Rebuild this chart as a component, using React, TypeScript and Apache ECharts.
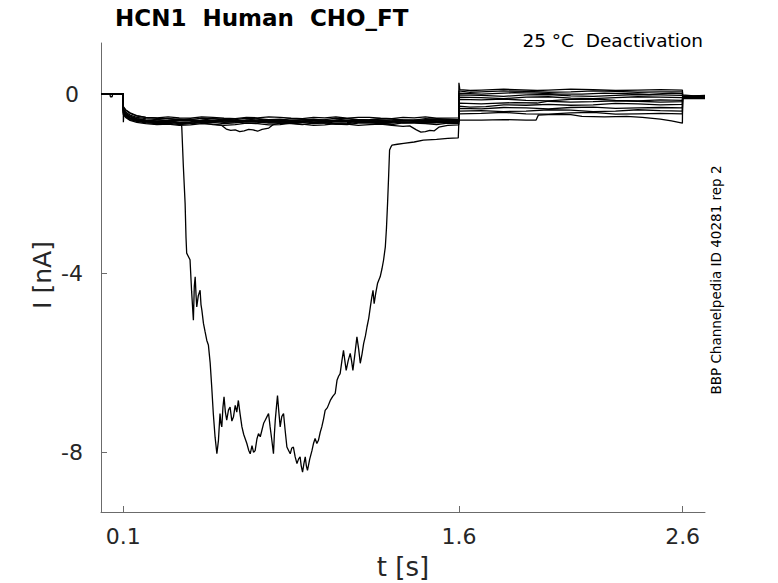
import React, { useEffect, useRef } from "react";
import * as echarts from "echarts";

// ---- data (time in s, current in nA) ----
const X_TICKS = [0.1, 1.6, 2.6];
const Y_TICKS = [0, -4, -8];
const X_RANGE = [0, 2.7];
const Y_RANGE = [-9.33, 1.14];

const trace01 = [
  [0, 0], [0.0995, 0], [0.1, -0.3], [0.11, -0.36], [0.13, -0.43], [0.16, -0.49], [0.2, -0.52], [0.25, -0.53],
  [0.3, -0.51], [0.35, -0.53], [0.4, -0.54], [0.45, -0.51], [0.5, -0.52], [0.55, -0.54], [0.6, -0.55], [0.65, -0.52],
  [0.7, -0.53], [0.75, -0.51], [0.8, -0.52], [0.85, -0.54], [0.9, -0.55], [0.95, -0.52], [1.0, -0.53], [1.05, -0.51],
  [1.1, -0.54], [1.15, -0.52], [1.2, -0.52], [1.25, -0.54], [1.3, -0.55], [1.35, -0.52], [1.4, -0.53], [1.45, -0.51],
  [1.5, -0.54], [1.599, -0.53], [1.6, 0.25], [1.604, 0.1], [1.65, 0.08], [1.7, 0.09], [1.8, 0.11], [1.85, 0.1],
  [1.95, 0.08], [2.0, 0.09], [2.1, 0.11], [2.2, 0.1], [2.3, 0.08], [2.4, 0.09], [2.5, 0.1], [2.599, 0.09],
  [2.6, -0.02], [2.65, -0.04], [2.7, -0.03],
];
const trace02 = [
  [0, 0], [0.0995, 0], [0.1, -0.33], [0.11, -0.4], [0.13, -0.47], [0.16, -0.52], [0.2, -0.55], [0.25, -0.57],
  [0.3, -0.55], [0.35, -0.56], [0.4, -0.59], [0.45, -0.58], [0.5, -0.55], [0.55, -0.56], [0.6, -0.59], [0.65, -0.58],
  [0.7, -0.55], [0.75, -0.57], [0.8, -0.56], [0.85, -0.59], [0.9, -0.57], [0.95, -0.56], [1.0, -0.59], [1.05, -0.58],
  [1.1, -0.55], [1.15, -0.57], [1.2, -0.58], [1.25, -0.56], [1.3, -0.55], [1.35, -0.58], [1.4, -0.59], [1.45, -0.57],
  [1.5, -0.56], [1.55, -0.58], [1.599, -0.57], [1.6, 0.07], [1.65, 0.04], [1.7, 0.05], [1.8, 0.07], [1.9, 0.06],
  [2.0, 0.04], [2.1, 0.05], [2.2, 0.07], [2.3, 0.06], [2.4, 0.04], [2.5, 0.05], [2.599, 0.05], [2.6, -0.04], [2.7, -0.04],
];
const trace03 = [
  [0, 0], [0.0995, 0], [0.1, -0.36], [0.11, -0.43], [0.13, -0.5], [0.16, -0.55], [0.2, -0.58], [0.25, -0.61],
  [0.3, -0.6], [0.35, -0.58], [0.4, -0.58], [0.45, -0.61], [0.5, -0.6], [0.55, -0.58], [0.6, -0.59], [0.65, -0.62],
  [0.7, -0.61], [0.75, -0.59], [0.8, -0.58], [0.85, -0.61], [0.9, -0.6], [0.95, -0.58], [1.0, -0.59], [1.05, -0.62],
  [1.1, -0.61], [1.15, -0.58], [1.2, -0.59], [1.25, -0.61], [1.3, -0.6], [1.35, -0.58], [1.4, -0.58], [1.45, -0.61],
  [1.5, -0.6], [1.599, -0.59], [1.6, 0.02], [1.7, 0.0], [1.75, 0.01], [1.85, 0.03], [1.95, 0.02], [2.05, 0.0],
  [2.15, 0.0], [2.25, 0.02], [2.35, 0.01], [2.45, -0.01], [2.55, 0.02], [2.599, 0.01], [2.6, -0.05], [2.7, -0.05],
];
const trace04 = [
  [0, 0], [0.0995, 0], [0.1, -0.4], [0.11, -0.46], [0.13, -0.53], [0.16, -0.57], [0.2, -0.6], [0.25, -0.62],
  [0.3, -0.61], [0.35, -0.64], [0.4, -0.63], [0.45, -0.6], [0.5, -0.61], [0.55, -0.63], [0.6, -0.62], [0.65, -0.59],
  [0.7, -0.6], [0.75, -0.62], [0.8, -0.63], [0.85, -0.6], [0.9, -0.61], [0.95, -0.64], [1.0, -0.62], [1.05, -0.6],
  [1.1, -0.6], [1.15, -0.63], [1.2, -0.62], [1.25, -0.6], [1.3, -0.61], [1.35, -0.64], [1.4, -0.63], [1.45, -0.6],
  [1.5, -0.61], [1.599, -0.62], [1.6, -0.02], [1.7, -0.03], [1.8, -0.05], [1.9, -0.02], [2.0, -0.01], [2.1, -0.04],
  [2.2, -0.05], [2.3, -0.03], [2.4, -0.01], [2.5, -0.02], [2.599, -0.03], [2.6, -0.06], [2.7, -0.06],
];
const trace05 = [
  [0, 0], [0.0995, 0], [0.1, -0.28], [0.11, -0.35], [0.13, -0.42], [0.16, -0.48], [0.2, -0.52], [0.25, -0.54],
  [0.3, -0.55], [0.35, -0.58], [0.4, -0.57], [0.45, -0.54], [0.5, -0.55], [0.55, -0.58], [0.6, -0.57], [0.65, -0.54],
  [0.7, -0.56], [0.75, -0.59], [0.8, -0.58], [0.85, -0.55], [0.9, -0.56], [0.95, -0.58], [1.0, -0.57], [1.05, -0.54],
  [1.1, -0.55], [1.15, -0.58], [1.2, -0.57], [1.25, -0.55], [1.3, -0.56], [1.35, -0.59], [1.4, -0.58], [1.45, -0.55],
  [1.5, -0.56], [1.599, -0.57], [1.6, -0.07], [1.7, -0.08], [1.8, -0.1], [1.9, -0.07], [2.0, -0.06], [2.1, -0.09],
  [2.2, -0.1], [2.3, -0.08], [2.4, -0.06], [2.5, -0.07], [2.599, -0.08], [2.6, -0.05], [2.7, -0.06],
];
const trace06 = [
  [0, 0], [0.0995, 0], [0.1, -0.42], [0.11, -0.48], [0.13, -0.55], [0.16, -0.59], [0.2, -0.62], [0.25, -0.64],
  [0.3, -0.63], [0.35, -0.66], [0.4, -0.65], [0.45, -0.62], [0.5, -0.63], [0.55, -0.66], [0.6, -0.64], [0.65, -0.61],
  [0.7, -0.62], [0.75, -0.65], [0.8, -0.65], [0.85, -0.62], [0.9, -0.63], [0.95, -0.66], [1.0, -0.64], [1.05, -0.67],
  [1.1, -0.66], [1.15, -0.63], [1.2, -0.63], [1.25, -0.66], [1.3, -0.65], [1.35, -0.62], [1.4, -0.63], [1.45, -0.65],
  [1.5, -0.64], [1.599, -0.63], [1.6, -0.12], [1.7, -0.13], [1.8, -0.11], [1.9, -0.14], [2.0, -0.15], [2.1, -0.12],
  [2.2, -0.11], [2.3, -0.14], [2.4, -0.15], [2.5, -0.13], [2.599, -0.14], [2.6, -0.07], [2.7, -0.07],
];
const trace07 = [
  [0, 0], [0.0995, 0], [0.1, -0.38], [0.11, -0.44], [0.13, -0.51], [0.16, -0.56], [0.2, -0.59], [0.25, -0.61],
  [0.3, -0.6], [0.35, -0.63], [0.4, -0.62], [0.45, -0.59], [0.5, -0.59], [0.55, -0.62], [0.6, -0.61], [0.65, -0.58],
  [0.7, -0.6], [0.75, -0.63], [0.8, -0.62], [0.85, -0.59], [0.9, -0.6], [0.95, -0.62], [1.0, -0.61], [1.05, -0.58],
  [1.1, -0.59], [1.15, -0.62], [1.2, -0.61], [1.25, -0.59], [1.3, -0.6], [1.35, -0.63], [1.4, -0.62], [1.45, -0.59],
  [1.5, -0.6], [1.599, -0.61], [1.6, -0.2], [1.7, -0.22], [1.75, -0.21], [1.85, -0.19], [1.95, -0.2], [2.0, -0.16],
  [2.1, -0.18], [2.2, -0.17], [2.3, -0.15], [2.4, -0.16], [2.5, -0.18], [2.599, -0.17], [2.6, -0.08], [2.7, -0.08],
];
const trace08 = [
  [0, 0], [0.0995, 0], [0.1, -0.44], [0.11, -0.5], [0.13, -0.57], [0.16, -0.61], [0.2, -0.64], [0.25, -0.66],
  [0.3, -0.65], [0.35, -0.68], [0.4, -0.66], [0.45, -0.64], [0.5, -0.68], [0.54, -0.7], [0.56, -0.78], [0.58, -0.81],
  [0.6, -0.8], [0.62, -0.84], [0.64, -0.82], [0.66, -0.79], [0.68, -0.8], [0.7, -0.83], [0.72, -0.79], [0.75, -0.76],
  [0.77, -0.68], [0.8, -0.65], [0.85, -0.66], [0.9, -0.68], [0.95, -0.65], [1.0, -0.64], [1.05, -0.67], [1.1, -0.68],
  [1.15, -0.65], [1.2, -0.64], [1.25, -0.66], [1.3, -0.68], [1.35, -0.64], [1.4, -0.65], [1.45, -0.66], [1.5, -0.68],
  [1.55, -0.65], [1.599, -0.66], [1.6, -0.27], [1.65, -0.29], [1.72, -0.28], [1.8, -0.24], [1.9, -0.25], [2.0, -0.23],
  [2.1, -0.25], [2.2, -0.24], [2.3, -0.21], [2.4, -0.22], [2.5, -0.24], [2.599, -0.23], [2.6, -0.06], [2.7, -0.06],
];
const trace09 = [
  [0, 0], [0.0995, 0], [0.1, -0.41], [0.11, -0.47], [0.13, -0.54], [0.16, -0.58], [0.2, -0.61], [0.25, -0.63],
  [0.3, -0.62], [0.35, -0.59], [0.4, -0.6], [0.45, -0.63], [0.5, -0.63], [0.55, -0.6], [0.6, -0.62], [0.65, -0.65],
  [0.7, -0.64], [0.75, -0.61], [0.8, -0.61], [0.85, -0.64], [0.9, -0.63], [0.95, -0.6], [1.0, -0.62], [1.05, -0.65],
  [1.1, -0.64], [1.15, -0.61], [1.2, -0.62], [1.25, -0.64], [1.3, -0.63], [1.35, -0.6], [1.4, -0.61], [1.45, -0.64],
  [1.5, -0.63], [1.599, -0.62], [1.6, -0.32], [1.7, -0.33], [1.8, -0.3], [1.9, -0.31], [2.0, -0.33], [2.1, -0.3],
  [2.2, -0.29], [2.3, -0.32], [2.4, -0.31], [2.5, -0.3], [2.599, -0.31], [2.6, -0.09], [2.7, -0.09],
];
const trace10 = [
  [0, 0], [0.0995, 0], [0.1, -0.46], [0.11, -0.52], [0.13, -0.59], [0.16, -0.63], [0.2, -0.66], [0.25, -0.68],
  [0.3, -0.67], [0.35, -0.7], [0.4, -0.69], [0.45, -0.66], [0.5, -0.67], [0.55, -0.7], [0.6, -0.68], [0.65, -0.65],
  [0.7, -0.66], [0.75, -0.69], [0.8, -0.68], [0.85, -0.65], [0.9, -0.67], [0.95, -0.7], [1.0, -0.69], [1.05, -0.66],
  [1.1, -0.67], [1.15, -0.7], [1.2, -0.68], [1.25, -0.67], [1.3, -0.7], [1.35, -0.72], [1.38, -0.71], [1.41, -0.8],
  [1.43, -0.85], [1.45, -0.84], [1.47, -0.81], [1.49, -0.82], [1.51, -0.74], [1.55, -0.7], [1.599, -0.69],
  [1.6, -0.38], [1.7, -0.37], [1.8, -0.39], [1.9, -0.38], [2.0, -0.35], [2.1, -0.36], [2.2, -0.39], [2.3, -0.38],
  [2.4, -0.35], [2.5, -0.37], [2.599, -0.38], [2.6, -0.1], [2.7, -0.1],
];
const trace11 = [
  [0, 0], [0.0995, 0], [0.1, -0.37], [0.11, -0.44], [0.13, -0.5], [0.16, -0.55], [0.2, -0.58], [0.25, -0.6],
  [0.3, -0.59], [0.35, -0.56], [0.4, -0.57], [0.45, -0.6], [0.5, -0.6], [0.55, -0.57], [0.6, -0.58], [0.65, -0.61],
  [0.7, -0.6], [0.75, -0.58], [0.8, -0.59], [0.85, -0.62], [0.9, -0.61], [0.95, -0.58], [1.0, -0.58], [1.05, -0.61],
  [1.1, -0.6], [1.15, -0.57], [1.2, -0.59], [1.25, -0.62], [1.3, -0.61], [1.35, -0.58], [1.4, -0.59], [1.45, -0.61],
  [1.5, -0.6], [1.599, -0.6], [1.6, -0.44], [1.7, -0.43], [1.8, -0.41], [1.9, -0.44], [2.0, -0.45], [2.1, -0.42],
  [2.2, -0.41], [2.3, -0.45], [2.4, -0.44], [2.5, -0.43], [2.599, -0.44], [2.6, -0.07], [2.7, -0.07],
];
const trace12 = [
  [0, 0], [0.04, 0], [0.042, -0.06], [0.05, -0.06], [0.052, 0], [0.0995, 0], [0.1, -0.63], [0.102, -0.42],
  [0.11, -0.48], [0.13, -0.55], [0.16, -0.6], [0.2, -0.62], [0.25, -0.63], [0.3, -0.61], [0.34, -0.64], [0.358, -0.66],
  [0.361, -0.73], [0.368, -1.6], [0.376, -2.44], [0.38, -3.2], [0.383, -3.55], [0.39, -3.62], [0.398, -3.7],
  [0.405, -4.4], [0.413, -5.05], [0.417, -4.3], [0.421, -4.08], [0.425, -4.5], [0.428, -4.75], [0.435, -4.5],
  [0.443, -4.38], [0.447, -4.7], [0.451, -4.83], [0.458, -5.12], [0.465, -5.3], [0.473, -5.5], [0.48, -5.6],
  [0.488, -6.0], [0.495, -6.54], [0.502, -7.13], [0.51, -7.66], [0.518, -8.03], [0.525, -7.73], [0.532, -7.13],
  [0.536, -7.35], [0.54, -7.43], [0.545, -7.0], [0.55, -6.76], [0.556, -7.1], [0.562, -7.28], [0.57, -7.05],
  [0.577, -6.99], [0.585, -7.3], [0.592, -7.21], [0.6, -6.95], [0.607, -7.1], [0.614, -6.84], [0.622, -7.15],
  [0.63, -7.43], [0.638, -7.6], [0.645, -7.7], [0.652, -7.8], [0.66, -7.95], [0.667, -8.03], [0.675, -7.85],
  [0.682, -8.0], [0.689, -7.96], [0.697, -7.7], [0.704, -7.58], [0.712, -7.65], [0.719, -7.51], [0.727, -7.35],
  [0.734, -7.28], [0.742, -7.2], [0.749, -7.13], [0.756, -7.43], [0.763, -7.7], [0.771, -8.03], [0.775, -7.6],
  [0.779, -7.28], [0.784, -7.0], [0.789, -6.73], [0.795, -7.1], [0.801, -7.43], [0.808, -7.2], [0.816, -7.13],
  [0.823, -7.5], [0.831, -7.88], [0.838, -7.95], [0.846, -8.03], [0.853, -7.9], [0.86, -7.88], [0.868, -8.1],
  [0.876, -8.25], [0.883, -8.15], [0.89, -8.1], [0.895, -8.3], [0.901, -8.44], [0.907, -8.25], [0.913, -8.1],
  [0.918, -8.3], [0.923, -8.4], [0.933, -8.15], [0.943, -7.96], [0.95, -7.8], [0.957, -7.69], [0.965, -7.8],
  [0.972, -7.73], [0.98, -7.55], [0.987, -7.43], [0.995, -7.25], [1.002, -7.06], [1.012, -7.0], [1.025, -6.84],
  [1.036, -6.75], [1.047, -6.68], [1.055, -6.39], [1.062, -6.3], [1.069, -6.24], [1.077, -5.95], [1.084, -5.72],
  [1.09, -5.95], [1.096, -6.17], [1.105, -5.95], [1.114, -5.79], [1.12, -5.95], [1.126, -6.17], [1.135, -5.8],
  [1.144, -5.42], [1.152, -5.7], [1.159, -6.01], [1.167, -5.8], [1.174, -5.57], [1.182, -5.4], [1.189, -5.2],
  [1.197, -5.0], [1.204, -4.75], [1.21, -4.55], [1.216, -4.38], [1.221, -4.68], [1.228, -4.45], [1.236, -4.23],
  [1.242, -4.15], [1.248, -4.08], [1.256, -3.9], [1.263, -3.71], [1.271, -3.41], [1.276, -3.0], [1.281, -2.44],
  [1.286, -1.8], [1.29, -1.25], [1.296, -1.18], [1.301, -1.14], [1.325, -1.12], [1.353, -1.1], [1.4, -1.07],
  [1.441, -1.03], [1.5, -1.01], [1.55, -0.99], [1.597, -0.98], [1.6, -0.58], [1.7, -0.58], [1.8, -0.57],
  [1.9, -0.58], [1.945, -0.58], [1.955, -0.47], [2.0, -0.46], [2.1, -0.46], [2.15, -0.5], [2.25, -0.51],
  [2.35, -0.5], [2.42, -0.52], [2.5, -0.56], [2.55, -0.6], [2.599, -0.65], [2.6, -0.08], [2.7, -0.08],
];

const TRACES = [trace01, trace02, trace03, trace04, trace05, trace06, trace07, trace08, trace09, trace10, trace11, trace12];

const TITLE = "HCN1  Human  CHO_FT";
const SUBTITLE = "25 °C  Deactivation";
const X_NAME = "t [s]";
const Y_NAME = "I [nA]";
const SIDE_NOTE = "BBP Channelpedia ID 40281 rep 2";

const FONT = "'DejaVu Sans', 'Noto Sans', sans-serif";
const AXIS_GRAY = "#6b6b6b";
const TEXT_DARK = "#262626";

export default function App() {
  const ref = useRef<HTMLDivElement>(null);

  useEffect(() => {
    if (!ref.current) return;
    const chart = echarts.init(ref.current, undefined, { renderer: "svg" });
    chart.setOption({
      animation: false,
      backgroundColor: "#ffffff",
      grid: { left: 101, right: 73, top: 43, bottom: 71, containLabel: false },
      xAxis: {
        type: "value",
        min: X_RANGE[0],
        max: X_RANGE[1],
        axisLine: { show: true, onZero: false, lineStyle: { color: AXIS_GRAY, width: 1 } },
        axisTick: { show: true, inside: true, length: 6, customValues: X_TICKS, lineStyle: { color: AXIS_GRAY } },
        axisLabel: {
          customValues: X_TICKS,
          margin: 13,
          color: TEXT_DARK,
          fontSize: 22,
          fontFamily: FONT,
          formatter: (v: number) => v.toFixed(1),
        },
        splitLine: { show: false },
      },
      yAxis: {
        type: "value",
        min: Y_RANGE[0],
        max: Y_RANGE[1],
        axisLine: { show: true, onZero: false, lineStyle: { color: AXIS_GRAY, width: 1 } },
        axisTick: { show: true, inside: true, length: 6, customValues: Y_TICKS, lineStyle: { color: AXIS_GRAY } },
        axisLabel: {
          customValues: Y_TICKS,
          margin: 29,
          align: "center",
          color: TEXT_DARK,
          fontSize: 22,
          fontFamily: FONT,
          formatter: (v: number) => String(v),
        },
        splitLine: { show: false },
      },
      series: TRACES.map((d, i) => ({
        name: "trace" + (i + 1),
        type: "line",
        data: d,
        showSymbol: false,
        symbol: "none",
        silent: true,
        clip: true,
        lineStyle: { color: "#000000", width: 1.3 },
      })),
      graphic: [
        {
          type: "text",
          x: 115,
          y: 18,
          style: { text: TITLE, fill: "#000", font: `bold 23px ${FONT}`, textAlign: "left", textVerticalAlign: "middle" },
        },
        {
          type: "text",
          x: 703,
          y: 40,
          style: { text: SUBTITLE, fill: "#000", font: `18.5px ${FONT}`, textAlign: "right", textVerticalAlign: "middle" },
        },
        {
          type: "text",
          x: 403,
          y: 567,
          style: { text: X_NAME, fill: TEXT_DARK, font: `26px ${FONT}`, textAlign: "center", textVerticalAlign: "middle" },
        },
        {
          type: "text",
          x: 42,
          y: 275,
          rotation: Math.PI / 2,
          style: { text: Y_NAME, fill: TEXT_DARK, font: `25px ${FONT}`, textAlign: "center", textVerticalAlign: "middle" },
        },
        {
          type: "text",
          x: 716,
          y: 280,
          rotation: Math.PI / 2,
          style: { text: SIDE_NOTE, fill: "#000", font: `13.5px ${FONT}`, textAlign: "center", textVerticalAlign: "middle" },
        },
      ],
    });
    return () => chart.dispose();
  }, []);

  return <div ref={ref} style={{ position: "fixed", left: 0, top: 0, width: 778, height: 583 }} />;
}
